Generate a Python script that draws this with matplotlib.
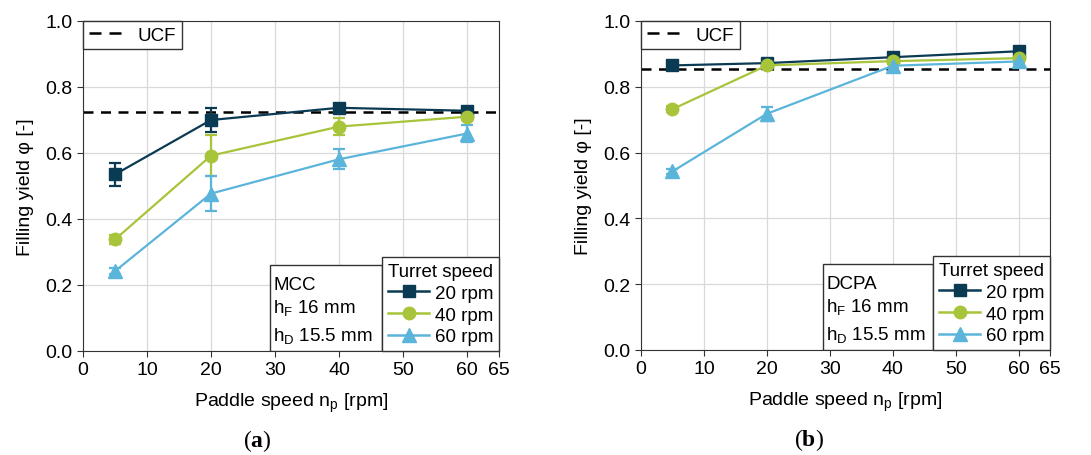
import matplotlib
matplotlib.use("Agg")
import matplotlib.pyplot as plt
from matplotlib.patches import Rectangle
from matplotlib.lines import Line2D

plt.rcParams['font.family'] = ['Liberation Sans', 'DejaVu Sans']
plt.rcParams['mathtext.fontset'] = 'custom'
plt.rcParams['mathtext.rm'] = 'Liberation Serif'
plt.rcParams['mathtext.bf'] = 'Liberation Serif:bold'

paddle = [5, 20, 40, 60]
labels = ['20 rpm', '40 rpm', '60 rpm']
colors = ['#0b3a53', '#a7c43a', '#5bb5da']
markers = ['s', 'o', '^']
msizes = [8, 9, 9.5]

# panel a: MCC
mcc_y = [[0.535, 0.700, 0.737, 0.728],
         [0.338, 0.592, 0.680, 0.710],
         [0.242, 0.477, 0.581, 0.659]]
mcc_err = [[0.035, 0.035, 0.010, 0.008],
           [0.015, 0.062, 0.025, 0.010],
           [0.010, 0.052, 0.030, 0.025]]
mcc_ucf = 0.725

# panel b: DCPA
dcpa_y = [[0.865, 0.872, 0.890, 0.908],
          [0.732, 0.865, 0.878, 0.887],
          [0.543, 0.718, 0.864, 0.877]]
dcpa_err = [[0.008, 0.008, 0.008, 0.008],
            [0.010, 0.010, 0.008, 0.008],
            [0.008, 0.022, 0.008, 0.008]]
dcpa_ucf = 0.855

fig = plt.figure(figsize=(10.91, 4.56), dpi=100)
ax1 = fig.add_axes([83/1091, 1-352/456, 416/1091, 330/456])
ax2 = fig.add_axes([641/1091, 1-351/456, 409/1091, 329/456])

FS = 14

def panel(ax, ys, errs, ucf, material, tag, tagx):
    ax.grid(True, color='#d9d9d9', lw=0.9)
    ax.set_axisbelow(True)
    ax.axhline(ucf, ls=(0, (4, 3)), color='black', lw=1.8, zorder=2)
    handles = []
    for y, e, c, m, s in zip(ys, errs, colors, markers, msizes):
        ax.errorbar(paddle, y, yerr=e, color=c, marker=m, ms=s, lw=1.6,
                    capsize=4, elinewidth=1.6, capthick=1.6, zorder=3)
        handles.append(Line2D([], [], color=c, marker=m, ms=s, lw=1.8))
    ax.set_xlim(0, 65)
    ax.set_ylim(0, 1.0)
    ax.set_xticks([0, 10, 20, 30, 40, 50, 60, 65])
    ax.set_yticks([0, 0.2, 0.4, 0.6, 0.8, 1.0])
    ax.set_yticklabels(['0.0', '0.2', '0.4', '0.6', '0.8', '1.0'])
    ax.tick_params(labelsize=FS, direction='out', length=4, color='#333333')
    for s in ax.spines.values():
        s.set_color('#333333')
    ax.set_xlabel('Paddle speed n$_\\mathregular{p}$ [rpm]', fontsize=FS, labelpad=9)
    ax.set_ylabel('Filling yield φ [-]', fontsize=FS, labelpad=8)

    leg_ucf = ax.legend([Line2D([], [], ls=(0, (4.8, 3.2)), color='black', lw=1.8)], ['UCF'],
                        loc='upper left', borderaxespad=0, fancybox=False, framealpha=1,
                        edgecolor='#333333', fontsize=FS - 0.5, handlelength=1.7,
                        borderpad=0.3, handletextpad=0.9)
    ax.add_artist(leg_ucf)
    leg = ax.legend(handles, labels, title='Turret speed', loc='lower right',
                    borderaxespad=0, fancybox=False, framealpha=1, edgecolor='#333333',
                    fontsize=FS - 0.5, title_fontsize=FS - 0.5, handlelength=2.2,
                    borderpad=0.3, handletextpad=0.3, labelspacing=0.25)
    leg.get_frame().set_linewidth(1.0)
    leg_ucf.get_frame().set_linewidth(1.0)

    fig.canvas.draw()
    bb = leg.get_window_extent().transformed(ax.transAxes.inverted())
    x1 = bb.x0
    w = 0.27
    top = 0.26
    rect = Rectangle((x1 - w, 0), w, top, transform=ax.transAxes, facecolor='white',
                     edgecolor='#333333', lw=1.0, zorder=4)
    ax.add_patch(rect)
    tx = x1 - w + 0.008
    ax.text(tx, 0.188, material, transform=ax.transAxes, fontsize=FS - 0.5, va='baseline', zorder=5)
    ax.text(tx, 0.115, 'h$_\\mathregular{F}$ 16 mm', transform=ax.transAxes, fontsize=FS - 0.5, va='baseline', zorder=5)
    ax.text(tx, 0.03, 'h$_\\mathregular{D}$ 15.5 mm', transform=ax.transAxes, fontsize=FS - 0.5, va='baseline', zorder=5)
    leg.set_zorder(6)

    ax.text(tagx, -0.27, '$\\mathrm{(}\\mathbf{' + tag + '}\\mathrm{)}$', transform=ax.transAxes,
            ha='center', va='center', fontsize=17)

panel(ax1, mcc_y, mcc_err, mcc_ucf, 'MCC', 'a', 0.418)
panel(ax2, dcpa_y, dcpa_err, dcpa_ucf, 'DCPA', 'b', 0.41)

fig.savefig('out.png', dpi=100)
